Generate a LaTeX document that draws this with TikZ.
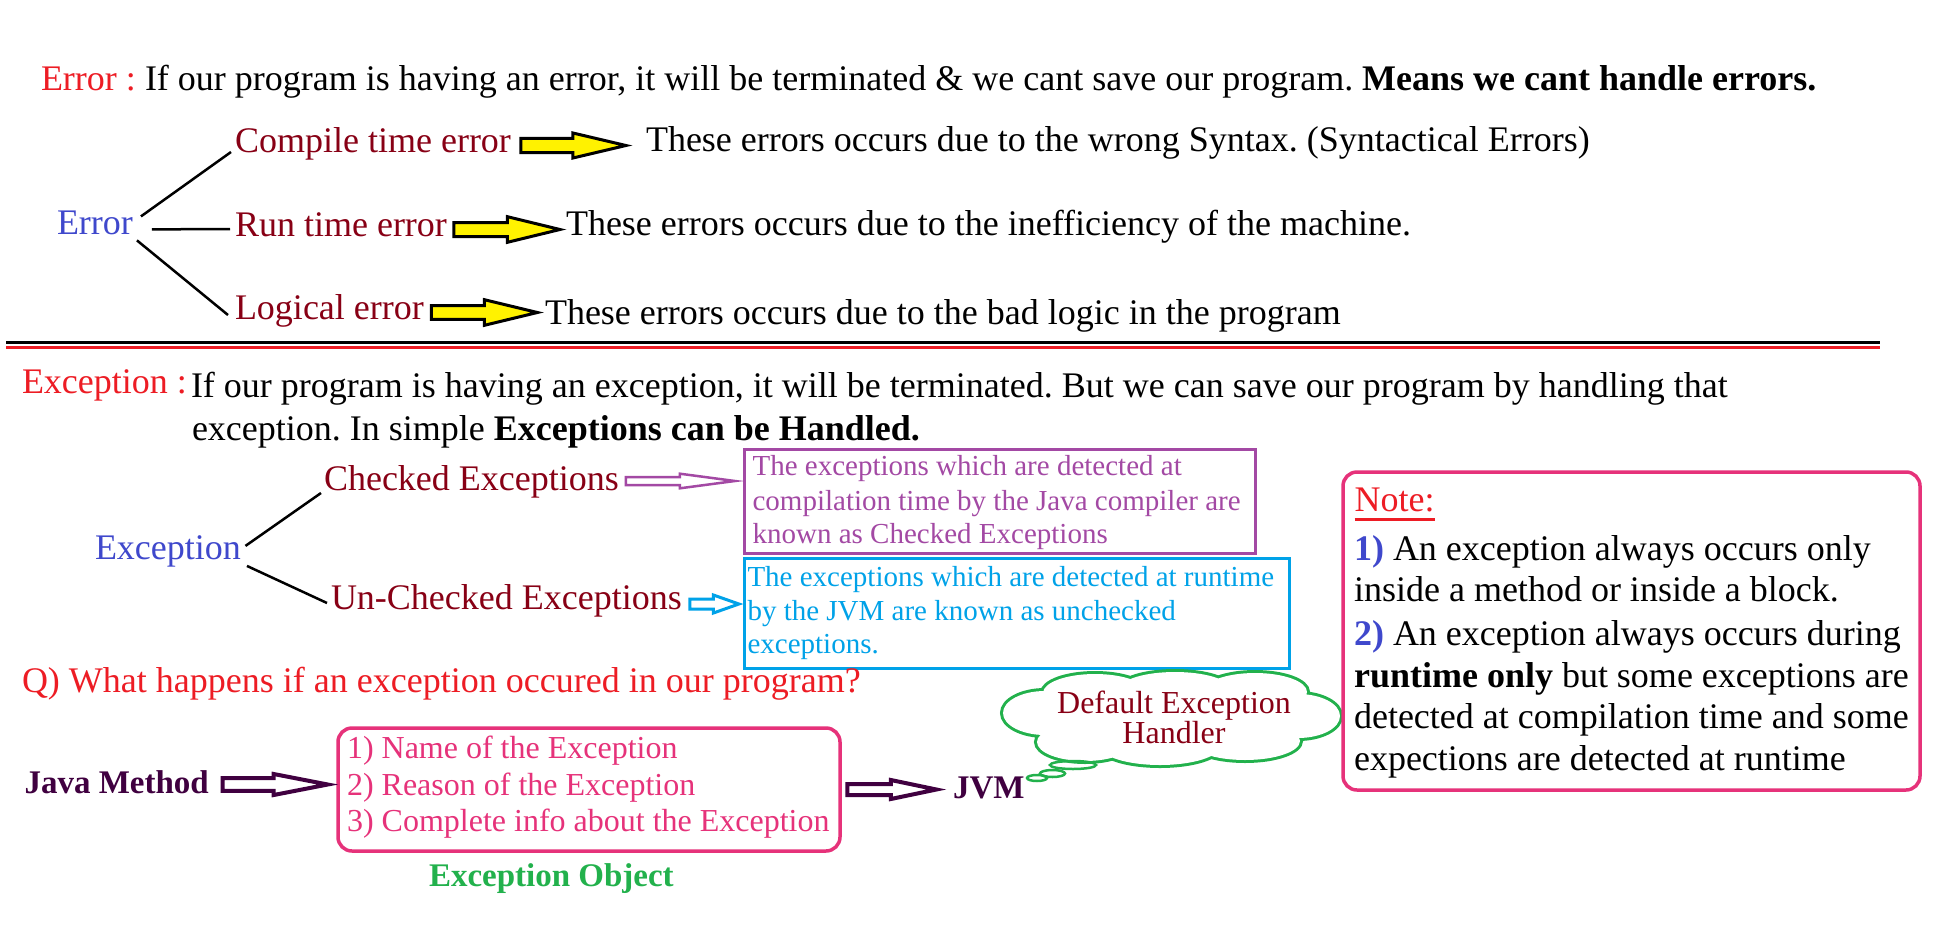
\documentclass[tikz,border=0pt]{standalone}
\usepackage{fontspec}
\setmainfont{Liberation Serif}
\usetikzlibrary{shapes.symbols}
\definecolor{cred}{HTML}{ED1C24}
\definecolor{cblue}{HTML}{3F48CC}
\definecolor{cdred}{HTML}{880015}
\definecolor{cpurple}{HTML}{A349A4}
\definecolor{ccyan}{HTML}{00A2E8}
\definecolor{cgreen}{HTML}{22B14C}
\definecolor{cpink}{RGB}{230,50,122}
\definecolor{cdpurple}{RGB}{64,0,64}
\definecolor{cyellow}{HTML}{FFF200}
\newcommand\fsz[1]{\fontsize{#1}{#1}\selectfont}
\newcommand\blockarrow[6]{\draw[#6] #1 -- ++(0,-#3) -- ++({#2-#5},0) -- ++(0,{#3-#4}) -- ++(#5,#4) -- ++(-#5,#4) -- ++(0,{#3-#4}) -- ++({#5-#2},0) -- cycle;}
\frenchspacing
\begin{document}
\begin{tikzpicture}[x=1pt,y=-1pt,
  txt/.style={inner sep=0pt,outer sep=0pt,anchor=base west},
  fbig/.style={font=\fsz{36}},
  fmid/.style={font=\fsz{32}},
  fsml/.style={font=\fsz{29}},
  fbold/.style={font=\fsz{33}\bfseries},
  tree/.style={line width=2.5pt,black},
  yarrow/.style={fill=cyellow,draw=black,line width=3pt,line join=miter},
  harrow/.style={fill=white,line width=2.5pt,line join=miter},
  boxline/.style={draw,line width=3pt,inner sep=0pt,outer sep=0pt},
  rbox/.style={draw=cpink,line width=3.5pt,rounded corners=14pt,inner sep=0pt,outer sep=0pt}]
\useasboundingbox[fill=white] (0,0) rectangle (1959,937);

% ---------------- Error section ----------------
\node[txt,fbig,text=cred] (errlbl) at (41,90) {Error :};
\node[txt,fbig] (errdef) at (145,90) {If our program is having an error, it will be terminated \& we cant save our program. \textbf{Means we cant handle errors.}};

\node[txt,fbig,text=cblue] (errroot) at (57,234) {Error};
\node[txt,fbig,text=cdred] (compile) at (235,152) {Compile time error};
\node[txt,fbig,text=cdred] (runt) at (235,236) {Run time error};
\node[txt,fbig,text=cdred] (logic) at (235,319) {Logical error};

\node[txt,fbig] (cdesc) at (646,151) {These errors occurs due to the wrong Syntax. (Syntactical Errors)};
\node[txt,fbig] (rdesc) at (566,235) {These errors occurs due to the inefficiency of the machine.};
\node[txt,fbig] (ldesc) at (545,324) {These errors occurs due to the bad logic in the program};

\draw[tree] ([shift={(8,-6)}]errroot.east) -- ([shift={(-4,0)}]compile.base west);
\draw[tree] ([shift={(19,7)}]errroot.east) -- ([shift={(-5,-7)}]runt.base west);
\draw[tree] ([shift={(4,18)}]errroot.east) -- ([shift={(-7,-4)}]logic.base west);

\blockarrow{([shift={(10,-6.5)}]compile.base east)}{105}{7.2}{12.5}{53}{yarrow}
\blockarrow{([shift={(7,-6.5)}]runt.base east)}{106}{7}{12.8}{52.5}{yarrow}
\blockarrow{([shift={(7.5,-6.5)}]logic.base east)}{106}{6.8}{12.8}{53}{yarrow}

% separator
\draw[line width=3pt,black] (6,342.5) -- (1880,342.5);
\draw[line width=3pt,cred] (6,347) -- (1880,347);

% ---------------- Exception section ----------------
\node[txt,fbig,text=cred] (exlbl) at (22,393) {Exception :};
\node[txt,fbig] (exdef1) at (191,397) {If our program is having an exception, it will be terminated. But we can save our program by handling that};
\node[txt,fbig] (exdef2) at (192,440) {exception. In simple \textbf{Exceptions can be Handled.}};

\node[txt,fbig,text=cblue] (exroot) at (95,559) {Exception};
\node[txt,fbig,text=cdred] (checked) at (324,490) {Checked Exceptions};
\node[txt,fbig,text=cdred] (unchecked) at (331,609) {Un-Checked Exceptions};

\draw[tree] ([shift={(4.5,-5)}]exroot.east) -- ([shift={(-3,3)}]checked.base west);
\draw[tree] ([shift={(6,15)}]exroot.east) -- ([shift={(-4,-6)}]unchecked.base west);

\node[boxline,draw=cpurple,minimum width=511.5,minimum height=104] (pbox) at (999.75,501) {};
\node[txt,fsml,text=cpurple] (p1) at (752.6,475) {The exceptions which are detected at};
\node[txt,fsml,text=cpurple] (p2) at (752.6,510) {compilation time by the Java compiler are};
\node[txt,fsml,text=cpurple] (p3) at (752.6,543.3) {known as Checked Exceptions};

\node[boxline,draw=ccyan,minimum width=545,minimum height=110] (cbox) at (1016.5,613) {};
\node[txt,fsml,text=ccyan] (c1) at (747.5,586.7) {The exceptions which are detected at runtime};
\node[txt,fsml,text=ccyan] (c2) at (747.5,620.7) {by the JVM are known as unchecked};
\node[txt,fsml,text=ccyan] (c3) at (747.5,653) {exceptions.};

\blockarrow{([shift={(7,-9)}]checked.base east)}{109}{4}{7.3}{55}{harrow,draw=cpurple}
\blockarrow{([shift={(8,-5)}]unchecked.base east)}{49}{5}{9}{25.5}{harrow,draw=ccyan,line width=3pt}

\node[txt,fbig,text=cred] (question) at (22,692) {Q) What happens if an exception occured in our program?};

% ---------------- Bottom flow ----------------
\node[txt,fbold,text=cdpurple] (java) at (24.5,793) {Java Method};
\node[rbox,minimum width=502,minimum height=123] (objbox) at (589,789.5) {};
\node[txt,fmid,text=cpink] (o1) at (347,758) {1) Name of the Exception};
\node[txt,fmid,text=cpink] (o2) at (347,795) {2) Reason of the Exception};
\node[txt,fmid,text=cpink] (o3) at (347,831.7) {3) Complete info about the Exception};
\node[txt,fbold,text=cgreen] (objlbl) at (429,886.7) {Exception Object};
\node[txt,fbold,text=cdpurple] (jvm) at (953,798) {JVM};

\blockarrow{([shift={(14,-8.5)}]java.base east)}{105}{6.3}{10.5}{54}{harrow,draw=cdpurple,line width=4pt}
\blockarrow{([shift={(7.4,0)}]objbox.east)}{89}{5.5}{9.5}{45.5}{harrow,draw=cdpurple,line width=4pt}

% thought cloud: union of ellipses
\begin{scope}
\def\cloudparts{
  (1045,713) ellipse [x radius=42,y radius=22]
  (1085,742) ellipse [x radius=48,y radius=19]
  (1160,746) ellipse [x radius=60,y radius=19]
  (1245,741) ellipse [x radius=55,y radius=19]
  (1298,716) ellipse [x radius=42,y radius=22]
  (1255,692) ellipse [x radius=52,y radius=19]
  (1175,689) ellipse [x radius=55,y radius=17]
  (1095,693) ellipse [x radius=52,y radius=19]
  (1171,718) ellipse [x radius=125,y radius=30]}
\draw[cgreen,line width=6pt] \cloudparts;
\fill[white] \cloudparts;
\end{scope}
\node[txt,fmid,text=cdred,anchor=base] (dh1) at (1174,713) {Default Exception};
\node[txt,fmid,text=cdred,anchor=base] (dh2) at (1174,743) {Handler};
\draw[cgreen,line width=2.5pt] (1073,765) ellipse [x radius=23,y radius=4];
\draw[cgreen,line width=2.5pt] (1052.5,773.5) ellipse [x radius=12.5,y radius=3.5];
\draw[cgreen,line width=2.5pt] (1037,778) ellipse [x radius=10,y radius=3];

% ---------------- Note ----------------
\node[rbox,minimum width=577,minimum height=318] (notebox) at (1631.5,631) {};
\node[txt,fbig,text=cred] (notelbl) at (1354.6,511) {Note:};
\draw[cred,line width=3pt] ([shift={(0,8)}]notelbl.base west) -- ([shift={(0,8)}]notelbl.base east);
\node[txt,fbig] (n1) at (1354,560) {\textcolor{cblue}{\textbf{1)}} An exception always occurs only};
\node[txt,fbig] (n2) at (1354,601.7) {inside a method or inside a block.};
\node[txt,fbig] (n3) at (1354,645) {\textcolor{cblue}{\textbf{2)}} An exception always occurs during};
\node[txt,fbig] (n4) at (1354,687) {\textbf{runtime only} but some exceptions are};
\node[txt,fbig] (n5) at (1354,728) {detected at compilation time and some};
\node[txt,fbig] (n6) at (1354,770.7) {expections are detected at runtime};
\end{tikzpicture}
\end{document}
